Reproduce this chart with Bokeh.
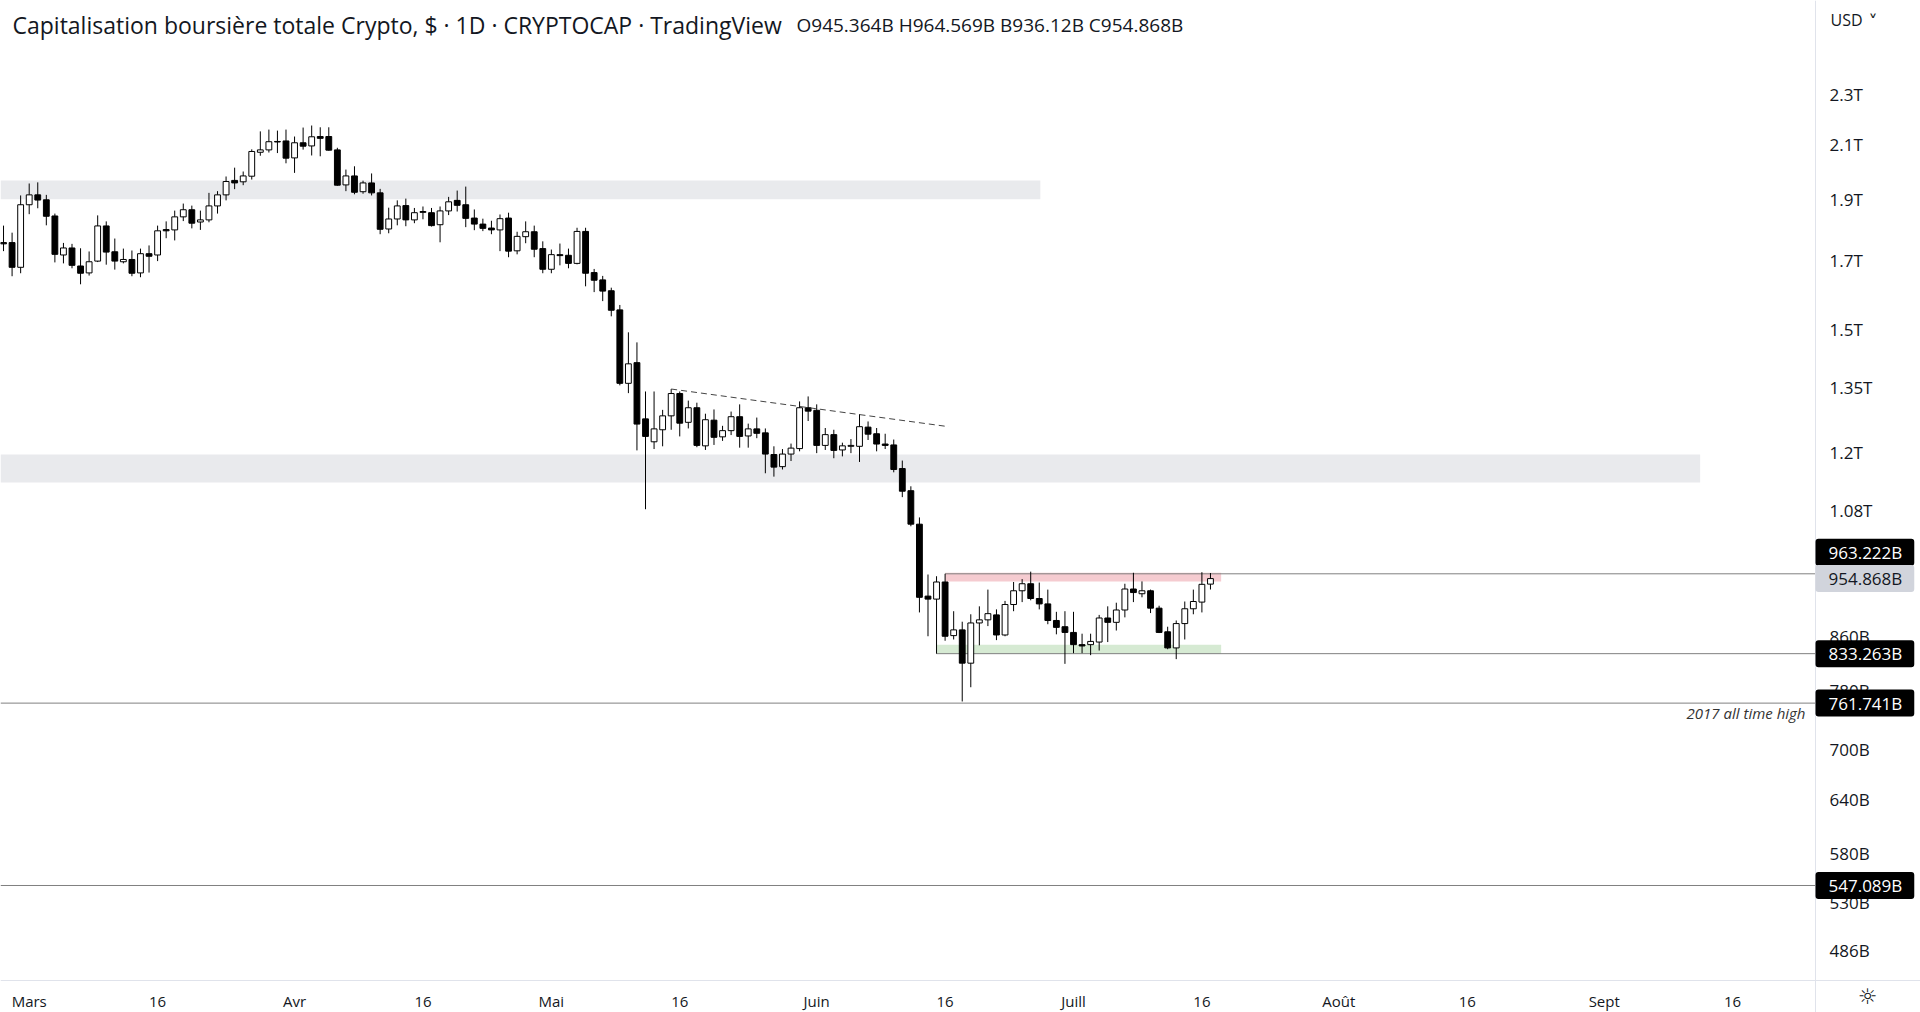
import pandas as pd
from bokeh.plotting import figure
from bokeh.models import Range1d, FixedTicker, BoxAnnotation, Label, ColumnDataSource
from bokeh.embed import file_html
from bokeh.resources import INLINE

# ---------------- data (billions USD, daily candles from 2022-02-26) ----------------
first_day = "2022-02-26"
opens = [1757, 1757, 1680, 1882, 1916, 1899, 1844, 1718, 1740, 1684,
         1663, 1699, 1811, 1728, 1697, 1704, 1663, 1722, 1718, 1799,
         1798, 1841, 1865, 1824, 1831, 1878, 1916, 1967, 1962, 1982,
         2070, 2079, 2111, 2113, 2049, 2106, 2094, 2130, 2130, 2079,
         1951, 1983, 1927, 1958, 1923, 1801, 1834, 1879, 1831, 1856,
         1855, 1815, 1861, 1897, 1882, 1837, 1817, 1804, 1798, 1837,
         1731, 1776, 1792, 1738, 1674, 1719, 1717, 1692, 1793, 1664,
         1642, 1610, 1555, 1361, 1413, 1276, 1224, 1251, 1283, 1336,
         1268, 1302, 1215, 1273, 1235, 1249, 1281, 1237, 1253, 1244,
         1196, 1170, 1197, 1209, 1302, 1296, 1216, 1240, 1206, 1214,
         1214, 1257, 1242, 1219, 1217, 1166, 1120, 1054, 925, 920,
         949, 861, 870, 819, 881, 886, 894, 862, 911, 934,
         946, 921, 912, 885, 875, 866, 847, 847, 851, 889,
         882, 902, 937, 929, 934, 905, 867, 842, 880, 904,
         915, 945.364]
highs = [1812, 1789, 1914, 1956, 1960, 1916, 1852, 1756, 1753, 1739,
         1729, 1846, 1826, 1770, 1738, 1732, 1738, 1748, 1812, 1826,
         1862, 1886, 1879, 1862, 1923, 1929, 1981, 2013, 1999, 2081,
         2150, 2157, 2153, 2157, 2130, 2165, 2173, 2166, 2166, 2087,
         2006, 2018, 1966, 1992, 1937, 1872, 1897, 1903, 1871, 1876,
         1871, 1876, 1909, 1931, 1945, 1866, 1835, 1828, 1849, 1855,
         1792, 1826, 1812, 1761, 1735, 1754, 1738, 1805, 1805, 1675,
         1654, 1619, 1569, 1493, 1466, 1341, 1341, 1297, 1347, 1341,
         1319, 1314, 1288, 1298, 1260, 1293, 1310, 1265, 1279, 1254,
         1214, 1208, 1220, 1317, 1329, 1310, 1255, 1251, 1222, 1230,
         1287, 1270, 1255, 1242, 1229, 1183, 1129, 1067, 962, 959,
         963.222, 900, 883, 895, 908, 936, 903, 917, 949, 954,
         967, 948, 936, 899, 900, 899, 864, 864, 894, 908,
         914, 946, 965, 950, 936, 909, 875, 885, 916, 936,
         966, 964.569]
lows = [1730, 1653, 1662, 1850, 1870, 1813, 1695, 1692, 1677, 1629,
        1655, 1696, 1688, 1673, 1692, 1653, 1650, 1664, 1699, 1771,
        1764, 1827, 1803, 1798, 1823, 1852, 1897, 1936, 1950, 1970,
        2057, 2069, 2067, 2029, 1994, 2080, 2058, 2055, 2076, 1948,
        1929, 1918, 1920, 1914, 1784, 1787, 1813, 1810, 1820, 1833,
        1809, 1758, 1847, 1859, 1807, 1797, 1794, 1784, 1730, 1711,
        1720, 1755, 1711, 1662, 1662, 1686, 1677, 1689, 1623, 1606,
        1580, 1537, 1356, 1337, 1205, 1083, 1208, 1214, 1251, 1236,
        1254, 1212, 1206, 1217, 1226, 1239, 1211, 1211, 1232, 1156,
        1149, 1164, 1182, 1203, 1271, 1199, 1206, 1188, 1192, 1199,
        1180, 1228, 1203, 1208, 1158, 1107, 1050, 898, 860, 833.263,
        853, 855, 764, 784, 846, 876, 854, 860, 900, 915,
        918, 903, 879, 863, 818, 834, 834, 831, 838, 851,
        869, 890, 915, 923, 897, 865, 840, 825, 855, 895,
        898, 936.12]
closes = [1753, 1680, 1882, 1916, 1898, 1843, 1720, 1740, 1686, 1662,
          1697, 1811, 1727, 1699, 1704, 1662, 1722, 1714, 1795, 1795,
          1841, 1865, 1820, 1831, 1878, 1916, 1963, 1958, 1983, 2073,
          2079, 2110, 2109, 2048, 2106, 2093, 2129, 2123, 2078, 1950,
          1983, 1925, 1958, 1923, 1800, 1834, 1878, 1831, 1855, 1859,
          1812, 1861, 1892, 1880, 1836, 1817, 1803, 1798, 1835, 1730,
          1777, 1792, 1736, 1674, 1719, 1716, 1692, 1793, 1662, 1641,
          1609, 1554, 1361, 1410, 1264, 1236, 1253, 1283, 1336, 1266,
          1302, 1216, 1274, 1234, 1249, 1281, 1236, 1253, 1243, 1197,
          1169, 1197, 1210, 1302, 1294, 1216, 1240, 1205, 1215, 1216,
          1258, 1241, 1219, 1216, 1164, 1119, 1054, 923, 920, 949,
          860, 870, 819, 881, 886, 896, 862, 911, 934, 946,
          921, 912, 885, 874, 866, 847, 845, 852, 889, 882,
          902, 937, 931, 934, 905, 866, 842, 880, 904, 916,
          945, 954.868]

y_ticks = [2300, 2100, 1900, 1700, 1500, 1350, 1200, 1080, 860, 780, 700, 640, 580, 530, 486]
y_labels = ["2.3T", "2.1T", "1.9T", "1.7T", "1.5T", "1.35T", "1.2T", "1.08T",
            "860B", "780B", "700B", "640B", "580B", "530B", "486B"]
x_tick_dates = ["2022-03-01", "2022-03-16", "2022-04-01", "2022-04-16", "2022-05-01",
                "2022-05-16", "2022-06-01", "2022-06-16", "2022-07-01", "2022-07-16",
                "2022-08-01", "2022-08-16", "2022-09-01", "2022-09-16"]
x_tick_labels = ["Mars", "16", "Avr", "16", "Mai", "16", "Juin", "16", "Juill", "16",
                 "Août", "16", "Sept", "16"]

# drawn levels / zones
resistance = 963.222
support = 833.263
ath_2017 = 761.741
level_547 = 547.089
last_close = 954.868
resistance_start = "2022-06-16"
support_start = "2022-06-15"
range_zone_end = "2022-07-18 06:00"
red_zone = (950, 965)
green_zone = (833.263, 847)
upper_band = (1901, 1967)
upper_band_end = "2022-06-27 03:00"
mid_band = (1137, 1196)
mid_band_end = "2022-09-12 05:00"
trend_dates = ["2022-05-15 00:00", "2022-06-16 10:00"]
trend_values = [1347, 1258]

title_text = "Capitalisation boursière totale Crypto, $ · 1D · CRYPTOCAP · TradingView"
ohlc_text = "O945.364B H964.569B B936.12B C954.868B"

# ---------------- helpers ----------------
DAY = 86400000.0


def ms(s):
    return pd.Timestamp(s).value / 1e6


base = pd.Timestamp("2022-03-01")
x_start = base + pd.Timedelta(days=-3.353)
x_end = base + pd.Timedelta(days=220.95)
price_axis_x = base + pd.Timedelta(days=208.68)
y_lo, y_hi = 434.46, 2726.45
time_axis_y = 460.43

dates = pd.date_range(first_day, periods=len(opens), freq="D")
df = pd.DataFrame(dict(date=dates, open=opens, high=highs, low=lows, close=closes))
df["top"] = df[["open", "close"]].max(axis=1)
df["bottom"] = df[["open", "close"]].min(axis=1)
src_all = ColumnDataSource(df)
src_up = ColumnDataSource(df[df.close >= df.open])
src_dn = ColumnDataSource(df[df.close < df.open])

p = figure(width=1920, height=1012, x_axis_type="datetime", y_axis_type="log",
           y_axis_location="right",
           x_range=Range1d(x_start, x_end), y_range=Range1d(y_lo, y_hi),
           output_backend="svg", toolbar_location=None)
p.min_border_left = 0
p.min_border_right = 0
p.min_border_top = 0
p.min_border_bottom = 0
p.outline_line_color = None
p.background_fill_color = "white"
p.border_fill_color = "white"
p.xgrid.visible = False
p.ygrid.visible = False

AX_COL = "#e0e3eb"
TXT = "#131722"

xa = p.xaxis[0]
xa.fixed_location = time_axis_y
xa.ticker = FixedTicker(ticks=[int(ms(d)) for d in x_tick_dates])
xa.major_label_overrides = {int(ms(d)): l for d, l in zip(x_tick_dates, x_tick_labels)}
xa.axis_line_color = AX_COL
xa.major_tick_line_color = None
xa.minor_tick_line_color = None
xa.major_tick_out = 0
xa.major_tick_in = 0
xa.major_label_standoff = 10
xa.major_label_text_font = "Open Sans"
xa.major_label_text_font_size = "15px"
xa.major_label_text_color = TXT

ya = p.yaxis[0]
ya.fixed_location = ms(price_axis_x)
ya.ticker = FixedTicker(ticks=y_ticks)
ya.major_label_overrides = {t: l for t, l in zip(y_ticks, y_labels)}
ya.axis_line_color = AX_COL
ya.major_tick_line_color = None
ya.minor_tick_line_color = None
ya.major_tick_out = 0
ya.major_tick_in = 0
ya.major_label_standoff = 14
ya.major_label_text_font = "Open Sans"
ya.major_label_text_font_size = "17px"
ya.major_label_text_color = TXT

# zones (behind the candles)
zones = [
    (None, ms(upper_band_end), upper_band, "#e9eaed"),
    (None, ms(mid_band_end), mid_band, "#e9eaed"),
    (ms(resistance_start), ms(range_zone_end), red_zone, "#f5cbd0"),
    (ms(support_start), ms(range_zone_end), green_zone, "#d6ead3"),
]
for left, right, (bot, top), col in zones:
    p.add_layout(BoxAnnotation(left=left, right=right, bottom=bot, top=top, level="underlay",
                               fill_color=col, fill_alpha=1, line_color=None))

# horizontal levels
p.segment(x0=[ms(resistance_start), ms(support_start), ms(x_start), ms(x_start)],
          y0=[resistance, support, ath_2017, level_547],
          x1=[ms(price_axis_x)] * 4,
          y1=[resistance, support, ath_2017, level_547],
          line_color="#808080", line_width=1)

# candles
p.segment(x0="date", y0="high", x1="date", y1="low", source=src_all,
          line_color="black", line_width=1)
p.vbar(x="date", width=0.68 * DAY, top="top", bottom="bottom", source=src_up,
       fill_color="white", line_color="black", line_width=1)
p.vbar(x="date", width=0.68 * DAY, top="top", bottom="bottom", source=src_dn,
       fill_color="black", line_color="black", line_width=1)

# dashed trend line
p.line(x=[ms(d) for d in trend_dates], y=trend_values, line_color="#444444",
       line_width=1, line_dash="6 4")

# texts
H = 1012
p.add_layout(Label(x=12, y=H - 24.5, x_units="screen", y_units="screen", text=title_text,
                   text_font="Open Sans", text_font_size="23px", text_color=TXT,
                   text_baseline="middle", text_align="left"))
p.add_layout(Label(x=796, y=H - 24.5, x_units="screen", y_units="screen", text=ohlc_text,
                   text_font="Open Sans", text_font_size="19px", text_color=TXT,
                   text_baseline="middle", text_align="left"))
p.add_layout(Label(x=1805, y=ath_2017, x_units="screen", y_units="data", y_offset=0,
                   text="2017 all time high", text_font="Open Sans", text_font_style="italic",
                   text_font_size="15px", text_color="#333333",
                   text_baseline="top", text_align="right"))
p.add_layout(Label(x=1830, y=H - 19.6, x_units="screen", y_units="screen", text="USD",
                   text_font="Open Sans", text_font_size="16px", text_color=TXT,
                   text_baseline="middle", text_align="left"))
p.add_layout(Label(x=1868, y=H - 21, x_units="screen", y_units="screen", text="˅",
                   text_font="DejaVu Sans", text_font_size="18px", text_color=TXT,
                   text_baseline="middle", text_align="left"))
p.add_layout(Label(x=1867, y=16, x_units="screen", y_units="screen", text="☼",
                   text_font="DejaVu Sans", text_font_size="22px", text_color=TXT,
                   text_baseline="middle", text_align="center"))

tags = [
    (resistance, "963.222B", "black", "white", 21.6),
    (last_close, "954.868B", "#d1d4dc", TXT, 0),
    (support, "833.263B", "black", "white", 0),
    (ath_2017, "761.741B", "black", "white", 0),
    (level_547, "547.089B", "black", "white", 0),
]
for val, txt, bg, fg, off in tags:
    p.add_layout(Label(x=1815, y=val, x_units="screen", y_units="data", y_offset=off,
                       text=txt, text_font="Open Sans", text_font_size="17px",
                       text_color=fg, background_fill_color=bg, background_fill_alpha=1,
                       text_baseline="middle", text_align="left", border_radius=3,
                       padding=dict(left=13, right=12, top=2, bottom=2)))

open("out.html", "w").write(file_html(p, INLINE))
